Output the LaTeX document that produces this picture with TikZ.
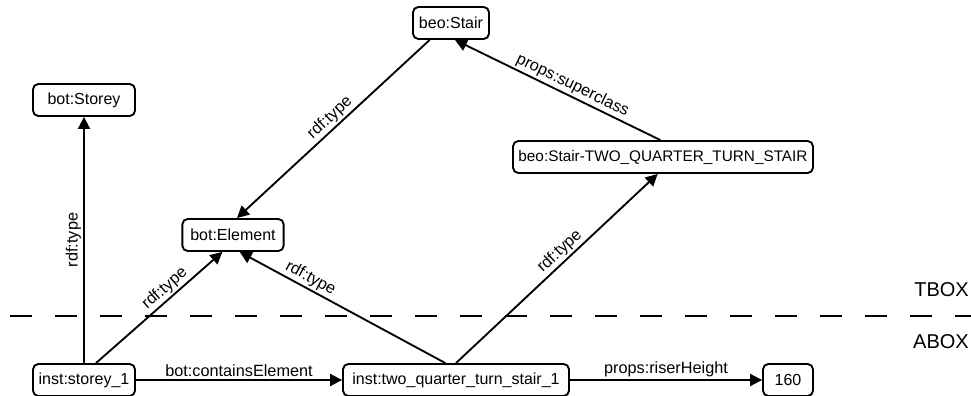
\documentclass[tikz,border=0pt]{standalone}
\usepackage{fontspec}
\setmainfont{Liberation Sans}
\usepackage{xcolor}
\usepackage{tikz}
\usetikzlibrary{arrows.meta}
\definecolor{ink}{HTML}{000000}
\definecolor{bg}{HTML}{FFFFFF}
\tikzset{
  res/.style={draw=ink, fill=bg, rounded corners=4pt, line width=1.4pt, minimum height=24pt, inner xsep=3pt, font=\fontsize{12}{14}\selectfont},
  rel/.style={draw=ink, line width=1.4pt, -{Triangle[length=9pt,width=9pt]}},
  lab/.style={text=ink, font=\fontsize{12.2}{14}\selectfont, inner sep=1.5pt},
  sep/.style={draw=ink, line width=1.4pt, dash pattern=on 16.5pt off 17.25pt},
  boxlab/.style={text=ink, font=\fontsize{15}{18}\selectfont, anchor=east, inner sep=0pt},
}
\begin{document}
\begin{tikzpicture}[x=0.75pt, y=-0.75pt]
  \useasboundingbox (0,0) rectangle (971,396);

  % TBOX / ABOX split
  \coordinate (sepL) at (10,316);
  \coordinate (sepR) at (971,316);
  \draw[sep] (sepL) -- (sepR);
  \node[boxlab] (tbox) at (969,290) {TBOX};
  \node[boxlab] (abox) at (969,342) {ABOX};

  % classes
  \node[res, minimum width=57pt]   (stair)   at (451,23)  {beo:Stair};
  \node[res, minimum width=76.5pt] (storey)  at (84,100)  {bot:Storey};
  \node[res, minimum width=225pt, font=\fontsize{11.5}{14}\selectfont] (twoq) at (663,157) {beo:Stair-TWO\_QUARTER\_TURN\_STAIR};
  \node[res, minimum width=76pt]   (element) at (233,235) {bot:Element};

  % instances
  \node[res, minimum width=76.5pt]  (storey1) at (84,380)  {inst:storey\_1};
  \node[res, minimum width=169.5pt] (stair1)  at (456,380) {inst:two\_quarter\_turn\_stair\_1};
  \node[res, minimum width=37.5pt]  (val)     at (788,380) {160};

  \draw[rel] (storey1.north) -- node[lab, midway, above, sloped] {rdf:type} (storey.south);
  \draw[rel] ([xshift=9pt]storey1.north) -- node[lab, pos=0.6, above, sloped] {rdf:type} ([xshift=-8pt]element.south);
  \draw[rel] ([xshift=-8pt]stair1.north) -- node[lab, pos=0.68, above, sloped] {rdf:type} ([xshift=5pt]element.south);
  \draw[rel] (stair1.north) -- node[lab, pos=0.55, above, sloped] {rdf:type} ([xshift=-4pt]twoq.south);
  \draw[rel] ([xshift=-2pt]twoq.north) -- node[lab, pos=0.45, above, sloped] {props:superclass} ([xshift=3pt]stair.south);
  \draw[rel] ([xshift=-16pt]stair.south) -- node[lab, pos=0.48, above, sloped] {rdf:type} ([xshift=3pt]element.north);

  \draw[rel] (storey1.east) -- node[lab, midway, above] {bot:containsElement} (stair1.west);
  \draw[rel] (stair1.east) -- node[lab, midway, above] {props:riserHeight} (val.west);
\end{tikzpicture}
\end{document}
